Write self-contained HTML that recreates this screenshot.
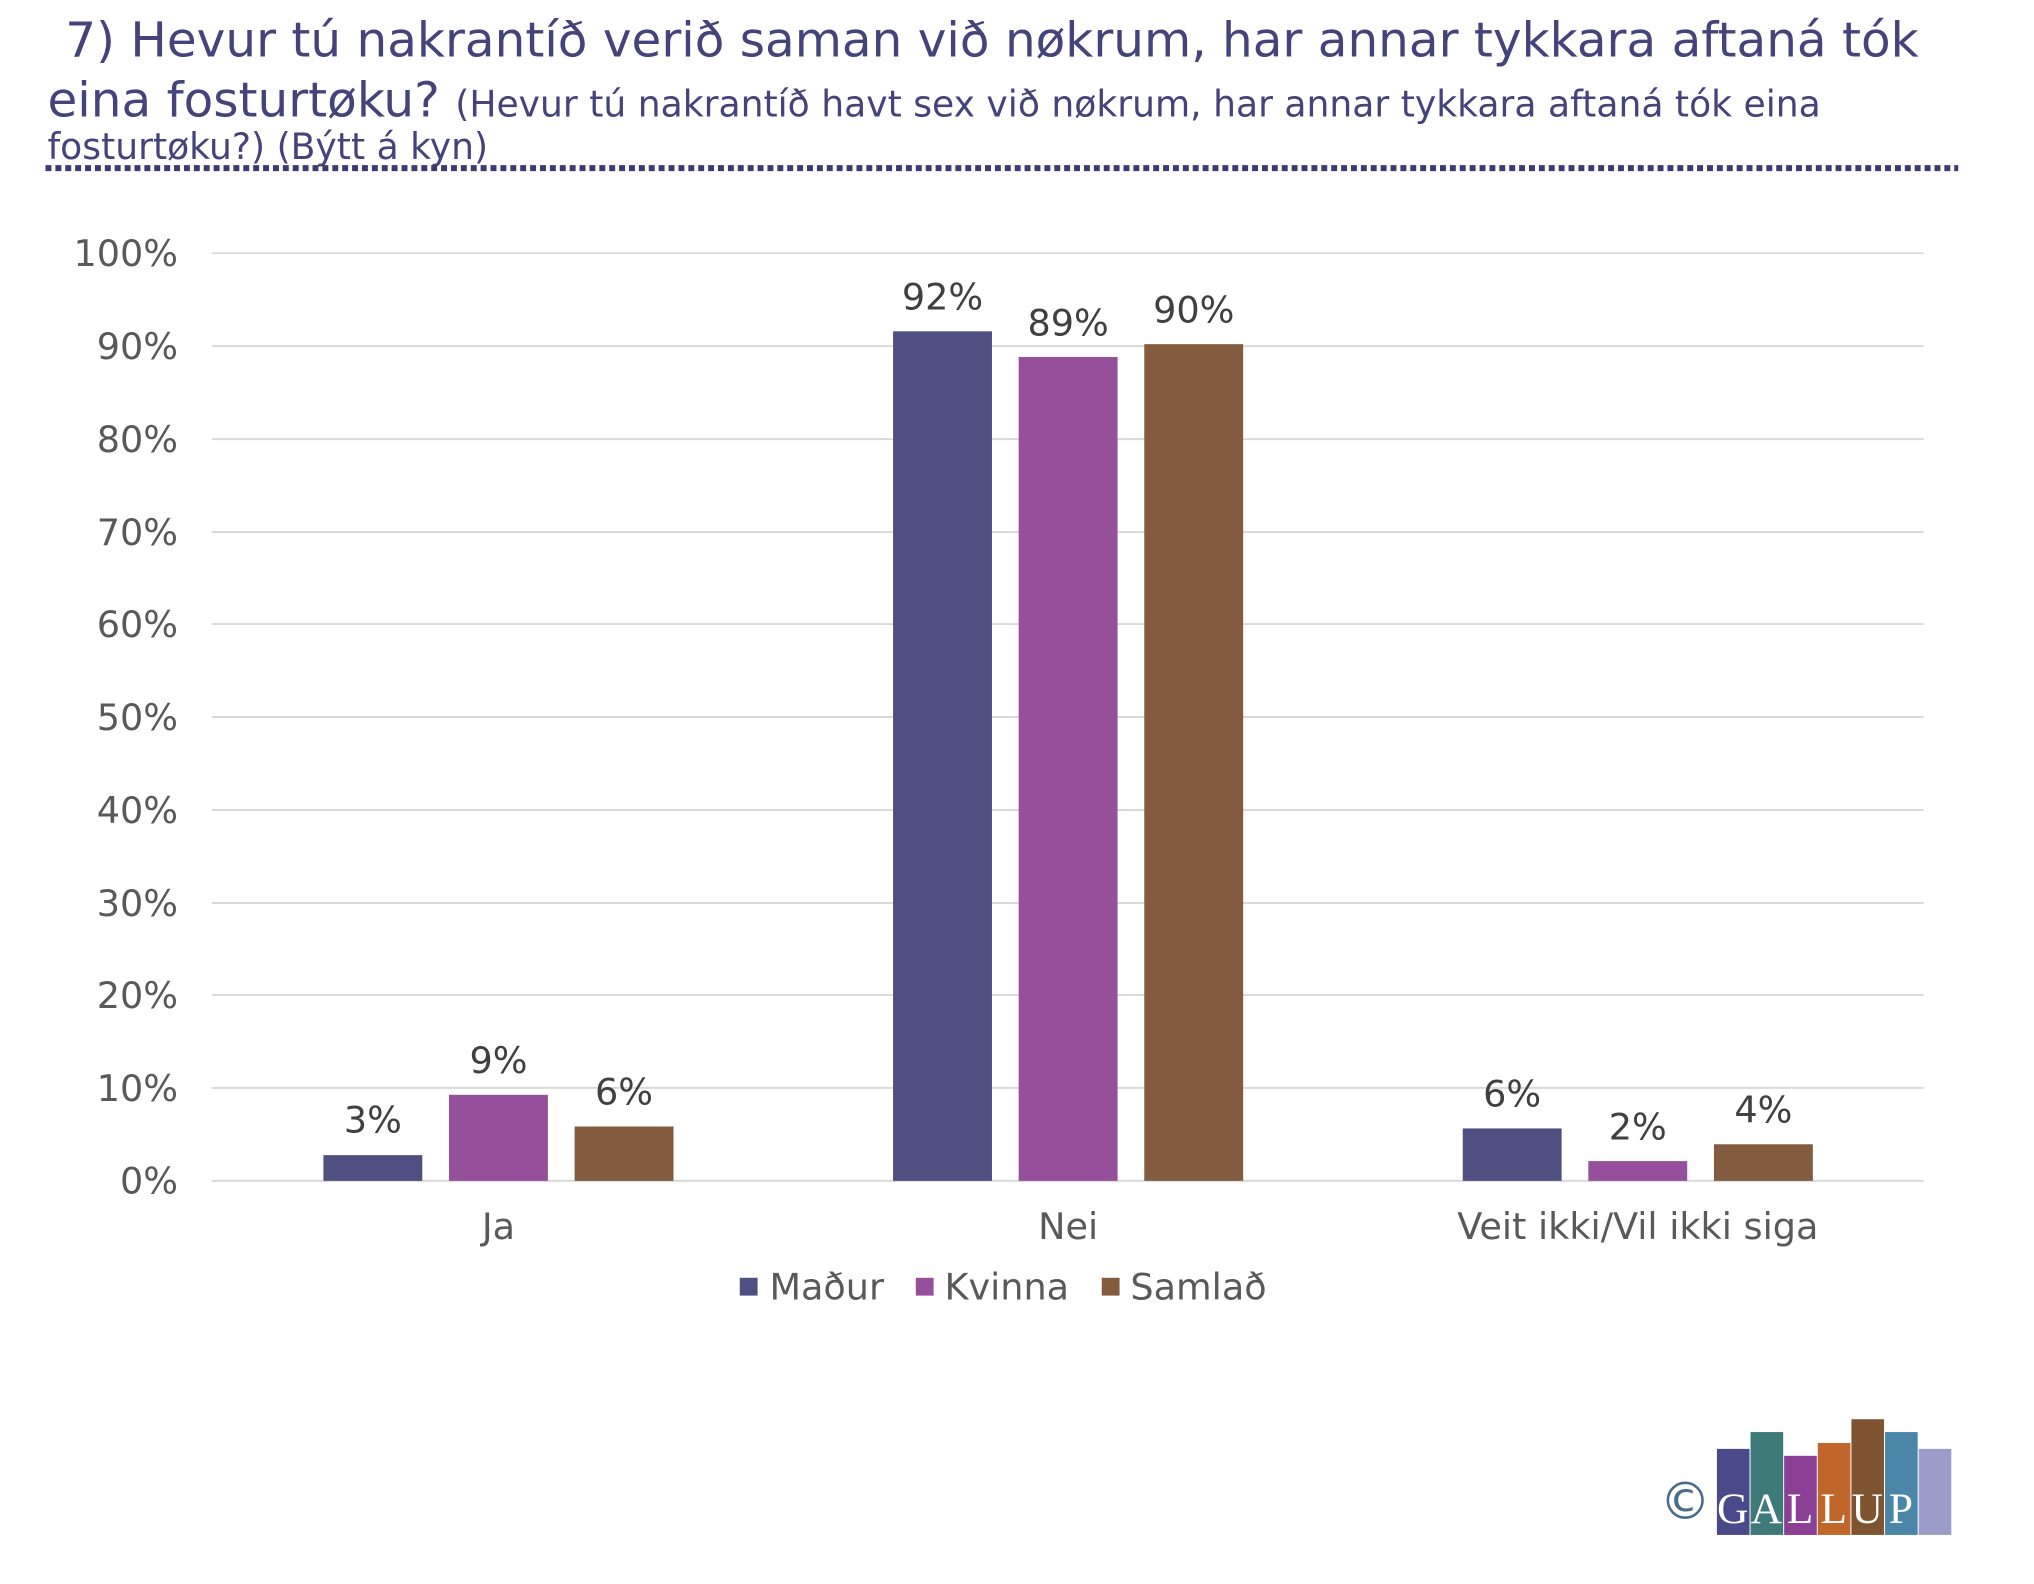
<!DOCTYPE html>
<html><head><meta charset="utf-8"><style>
html,body{margin:0;padding:0;background:#fff;}
body{width:2034px;height:1584px;position:relative;overflow:hidden;font-family:"DejaVu Sans","Liberation Sans",sans-serif;}
#w{position:absolute;left:0;top:0;width:2034px;height:1584px;transform:scale(0.989);transform-origin:0 0;}
.t{position:absolute;color:#45437c;white-space:nowrap;}
</style></head><body><div id="w">
<div class="t" style="left:66px;top:12px;font-size:49px;">7) Hevur tú nakrantíð verið saman við nøkrum, har annar tykkara aftaná tók</div>
<div class="t" style="left:48px;top:73px;font-size:49px;">eina fosturtøku? <span style="font-size:36.5px;">(Hevur tú nakrantíð havt sex við nøkrum, har annar tykkara aftaná tók eina</span></div>
<div class="t" style="left:48px;top:127px;font-size:36.5px;">fosturtøku?) (Býtt á kyn)</div>
<svg width="2034" height="1584" style="position:absolute;left:0;top:0" xmlns="http://www.w3.org/2000/svg">
<line x1="46" y1="170" x2="1980" y2="170" stroke="#3c3a6e" stroke-width="6" stroke-dasharray="6,4"/>
<g stroke="#d9d9d9" stroke-width="2">
<line x1="214" x2="1945" y1="256" y2="256"/><line x1="214" x2="1945" y1="350" y2="350"/><line x1="214" x2="1945" y1="444" y2="444"/><line x1="214" x2="1945" y1="538" y2="538"/><line x1="214" x2="1945" y1="631" y2="631"/><line x1="214" x2="1945" y1="725" y2="725"/><line x1="214" x2="1945" y1="819" y2="819"/><line x1="214" x2="1945" y1="913" y2="913"/><line x1="214" x2="1945" y1="1006" y2="1006"/><line x1="214" x2="1945" y1="1100" y2="1100"/><line x1="214" x2="1945" y1="1194" y2="1194"/>
</g>
<g font-family="DejaVu Sans, Liberation Sans, sans-serif" font-size="37" fill="#595959" text-anchor="end">
<text x="180" y="269">100%</text><text x="180" y="363">90%</text><text x="180" y="457">80%</text><text x="180" y="551">70%</text><text x="180" y="644">60%</text><text x="180" y="738">50%</text><text x="180" y="832">40%</text><text x="180" y="926">30%</text><text x="180" y="1019">20%</text><text x="180" y="1113">10%</text><text x="180" y="1207">0%</text>
</g>
<g>
<rect x="327" y="1168" width="100" height="26" fill="#4f4f82"/>
<rect x="454" y="1107" width="100" height="87" fill="#954f9b"/>
<rect x="581" y="1139" width="100" height="55" fill="#835b3e"/>
<rect x="903" y="335" width="100" height="859" fill="#4f4f82"/>
<rect x="1030" y="361" width="100" height="833" fill="#954f9b"/>
<rect x="1157" y="348" width="100" height="846" fill="#835b3e"/>
<rect x="1479" y="1141" width="100" height="53" fill="#4f4f82"/>
<rect x="1606" y="1174" width="100" height="20" fill="#954f9b"/>
<rect x="1733" y="1157" width="100" height="37" fill="#835b3e"/>
</g>
<g font-family="DejaVu Sans, Liberation Sans, sans-serif" font-size="37" fill="#404040" text-anchor="middle">
<text x="377" y="1145">3%</text><text x="504" y="1085">9%</text><text x="631" y="1117">6%</text>
<text x="953" y="313">92%</text><text x="1080" y="339">89%</text><text x="1207" y="326">90%</text>
<text x="1529" y="1119">6%</text><text x="1656" y="1152">2%</text><text x="1783" y="1135">4%</text>
<text x="504" y="1253" fill="#595959">Ja</text><text x="1080" y="1253" fill="#595959">Nei</text><text x="1656" y="1253" fill="#595959">Veit ikki/Vil ikki siga</text>
</g>
<rect x="748" y="1292" width="18" height="18" fill="#4f4f82"/>
<rect x="926" y="1292" width="18" height="18" fill="#954f9b"/>
<rect x="1114" y="1292" width="18" height="18" fill="#835b3e"/>
<g font-family="DejaVu Sans, Liberation Sans, sans-serif" font-size="37" fill="#595959">
<text x="778" y="1314">Maður</text><text x="955" y="1314">Kvinna</text><text x="1143" y="1314">Samlað</text>
</g>
<text x="1678" y="1536" font-family="DejaVu Sans, sans-serif" font-size="52" fill="#4a6c8c">©</text>
<g>
<rect x="1736" y="1465" width="33" height="87" fill="#4a4a8a"/>
<rect x="1770" y="1448" width="33" height="104" fill="#3d7a78"/>
<rect x="1804" y="1472" width="33" height="80" fill="#8b3f95"/>
<rect x="1838" y="1459" width="33" height="93" fill="#c0662a"/>
<rect x="1872" y="1435" width="33" height="117" fill="#7e5530"/>
<rect x="1906" y="1448" width="33" height="104" fill="#4a86a8"/>
<rect x="1940" y="1465" width="33" height="87" fill="#9c9cc8"/>
</g>
<g font-family="Liberation Serif, serif" font-size="44" fill="#fff" text-anchor="middle">
<text x="1752" y="1540">G</text><text x="1786" y="1540">A</text><text x="1820" y="1540">L</text><text x="1854" y="1540">L</text><text x="1888" y="1540">U</text><text x="1922" y="1540">P</text>
</g>
</svg>
</div></body></html>
